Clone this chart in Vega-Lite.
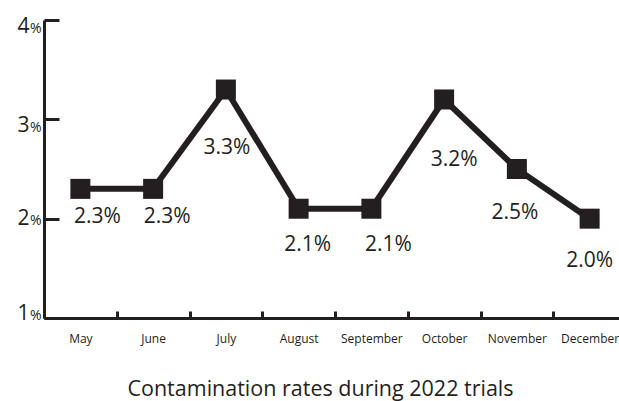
{
  "$schema": "https://vega.github.io/schema/vega-lite/v6.json",
  "width": 575,
  "height": 298,
  "autosize": {"type": "none"},
  "padding": {"left": 44, "top": 20, "right": 0, "bottom": 83},
  "background": "white",
  "config": {"view": {"stroke": null}, "font": "Open Sans"},
  "title": {
    "text": "Contamination rates during 2022 trials",
    "orient": "bottom",
    "anchor": "middle",
    "frame": "group",
    "baseline": "alphabetic",
    "offset": 52,
    "dx": -11,
    "fontSize": 21.5,
    "fontWeight": "normal",
    "font": "Open Sans",
    "color": "#231f20"
  },
  "data": {
    "values": [
      {"month": "May", "rate": 2.3, "label": "2.3%"},
      {"month": "June", "rate": 2.3, "label": "2.3%"},
      {"month": "July", "rate": 3.3, "label": "3.3%"},
      {"month": "August", "rate": 2.1, "label": "2.1%"},
      {"month": "September", "rate": 2.1, "label": "2.1%"},
      {"month": "October", "rate": 3.2, "label": "3.2%"},
      {"month": "November", "rate": 2.5, "label": "2.5%"},
      {"month": "December", "rate": 2.0, "label": "2.0%"}
    ]
  },
  "encoding": {
    "x": {
      "field": "month",
      "type": "nominal",
      "sort": null,
      "scale": {"range": [0, 582], "paddingInner": 0, "paddingOuter": 0},
      "axis": {
        "orient": "bottom",
        "title": null,
        "labelAngle": 0,
        "labelFontSize": 12,
        "labelColor": "#231f20",
        "labelBaseline": "alphabetic",
        "labelPadding": 31,
        "labelFlush": false,
        "labelOverlap": false,
        "tickBand": "extent",
        "tickSize": -7,
        "tickWidth": 3,
        "tickColor": "#231f20",
        "domainColor": "#231f20",
        "domainWidth": 3,
        "grid": false
      }
    },
    "y": {
      "field": "rate",
      "type": "quantitative",
      "scale": {"domain": [1, 4], "nice": false, "zero": false},
      "axis": null
    }
  },
  "layer": [
    {
      "mark": {"type": "line", "color": "#231f20", "strokeWidth": 6},
      "encoding": {
        "y": {
          "field": "rate",
          "type": "quantitative",
          "scale": {"domain": [1, 4], "nice": false, "zero": false},
          "axis": {
            "orient": "left",
            "values": [1, 2, 3, 4],
            "format": "d",
            "title": null,
            "grid": false,
            "labelFontSize": 21,
            "labelColor": "#231f20",
            "labelAlign": "right",
            "labelBaseline": "alphabetic",
            "labelPadding": 30,
            "labelOffset": {"condition": [{"test": "datum.value >= 3", "value": 12}, {"test": "datum.value == 2", "value": 6}], "value": 1},
            "labelFlush": false,
            "labelOverlap": false,
            "tickSize": -15,
            "tickWidth": 3,
            "tickColor": "#231f20",
            "domainColor": "#231f20",
            "domainWidth": 3
          }
        }
      }
    },
    {
      "mark": {"type": "point", "opacity": 0},
      "encoding": {
        "y": {
          "field": "rate",
          "type": "quantitative",
          "scale": {"domain": [1, 4], "nice": false, "zero": false},
          "axis": {
            "orient": "left",
            "values": [1, 2, 3, 4],
            "labelExpr": "'%'",
            "title": null,
            "grid": false,
            "ticks": false,
            "domain": false,
            "labelFontSize": 14,
            "labelColor": "#231f20",
            "labelAlign": "right",
            "labelBaseline": "alphabetic",
            "labelPadding": 3,
            "labelOffset": {"condition": [{"test": "datum.value >= 3", "value": 12}, {"test": "datum.value == 2", "value": 6}], "value": 1},
            "labelFlush": false,
            "labelOverlap": false
          }
        }
      }
    },
    {
      "mark": {"type": "point", "shape": "square", "filled": true, "size": 400, "color": "#231f20", "opacity": 1, "strokeWidth": 0}
    },
    {
      "transform": [{"filter": {"field": "month", "equal": "May"}}],
      "mark": {"type": "text", "fontSize": 21, "color": "#231f20", "align": "center", "baseline": "alphabetic", "dx": 17, "dy": 34},
      "encoding": {"text": {"field": "label"}}
    },
    {
      "transform": [{"filter": {"field": "month", "equal": "June"}}],
      "mark": {"type": "text", "fontSize": 21, "color": "#231f20", "align": "center", "baseline": "alphabetic", "dx": 14, "dy": 34},
      "encoding": {"text": {"field": "label"}}
    },
    {
      "transform": [{"filter": {"field": "month", "equal": "July"}}],
      "mark": {"type": "text", "fontSize": 21, "color": "#231f20", "align": "center", "baseline": "alphabetic", "dx": 1, "dy": 64},
      "encoding": {"text": {"field": "label"}}
    },
    {
      "transform": [{"filter": {"field": "month", "equal": "August"}}],
      "mark": {"type": "text", "fontSize": 21, "color": "#231f20", "align": "center", "baseline": "alphabetic", "dx": 9, "dy": 42},
      "encoding": {"text": {"field": "label"}}
    },
    {
      "transform": [{"filter": {"field": "month", "equal": "September"}}],
      "mark": {"type": "text", "fontSize": 21, "color": "#231f20", "align": "center", "baseline": "alphabetic", "dx": 17, "dy": 42},
      "encoding": {"text": {"field": "label"}}
    },
    {
      "transform": [{"filter": {"field": "month", "equal": "October"}}],
      "mark": {"type": "text", "fontSize": 21, "color": "#231f20", "align": "center", "baseline": "alphabetic", "dx": 10, "dy": 67},
      "encoding": {"text": {"field": "label"}}
    },
    {
      "transform": [{"filter": {"field": "month", "equal": "November"}}],
      "mark": {"type": "text", "fontSize": 21, "color": "#231f20", "align": "center", "baseline": "alphabetic", "dx": -2, "dy": 50},
      "encoding": {"text": {"field": "label"}}
    },
    {
      "transform": [{"filter": {"field": "month", "equal": "December"}}],
      "mark": {"type": "text", "fontSize": 21, "color": "#231f20", "align": "center", "baseline": "alphabetic", "dx": 0, "dy": 48},
      "encoding": {"text": {"field": "label"}}
    }
  ],
  "resolve": {"axis": {"y": "independent"}}
}
